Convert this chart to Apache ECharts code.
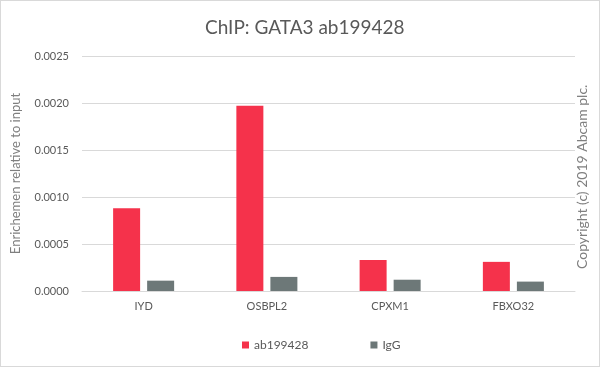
<!DOCTYPE html>
<html><head><meta charset="utf-8">
<script src="https://cdn.jsdelivr.net/npm/echarts@6/dist/echarts.min.js"></script>
<style>html,body{margin:0;padding:0;background:#fff}#c{width:598px;height:365px;border:1px solid #d9d9d9}</style>
</head><body><div id="c"></div>
<script>
const categories = ['IYD', 'OSBPL2', 'CPXM1', 'FBXO32'];
const ab199428 = [0.00088, 0.00197, 0.00033, 0.00031];
const igg = [0.00011, 0.00015, 0.00012, 0.00010];
const yTicks = [0, 0.0005, 0.001, 0.0015, 0.002, 0.0025];
const font = 'Lato, "DejaVu Sans", sans-serif';
const chart = echarts.init(document.getElementById('c'));
chart.setOption({
  animation: false,
  textStyle: {fontFamily: font},
  title: {text: 'ChIP: GATA3 ab199428', left: 199, top: 12,
    textStyle: {fontSize: 19, fontWeight: 'normal', color: '#595959', fontFamily: font}},
  grid: {left: 78, right: 24, top: 55, bottom: 75},
  legend: {bottom: 10, left: 236, itemWidth: 7, itemHeight: 7, itemGap: 62, icon: 'rect',
    textStyle: {color: '#595959', fontSize: 12, fontFamily: font},
    data: ['ab199428', 'IgG']},
  graphic: [{type: 'text', x: 574, y: 268, rotation: Math.PI/2, originX: 0, originY: 0,
    style: {text: 'Copyright (c) 2019 Abcam plc.', fill: '#7f7f7f', font: '14px ' + font}}],
  xAxis: {type: 'category', data: categories,
    axisLine: {lineStyle: {color: '#d9d9d9'}}, axisTick: {show: false},
    axisLabel: {color: '#595959', fontSize: 11, margin: 10}},
  yAxis: {type: 'value', min: 0, max: 0.0025, interval: 0.0005,
    name: 'Enrichemen relative to input', nameLocation: 'middle', nameGap: 60,
    nameTextStyle: {color: '#7f7f7f', fontSize: 13},
    axisLabel: {color: '#595959', fontSize: 11, margin: 13, formatter: v => v.toFixed(4)},
    splitLine: {lineStyle: {color: '#d9d9d9'}}},
  series: [
    {name: 'ab199428', type: 'bar', data: ab199428, barWidth: 27, barGap: '26%',
      itemStyle: {color: '#f5324b'}},
    {name: 'IgG', type: 'bar', data: igg, barWidth: 27,
      itemStyle: {color: '#6d7878'}}
  ]
});
</script></body></html>
